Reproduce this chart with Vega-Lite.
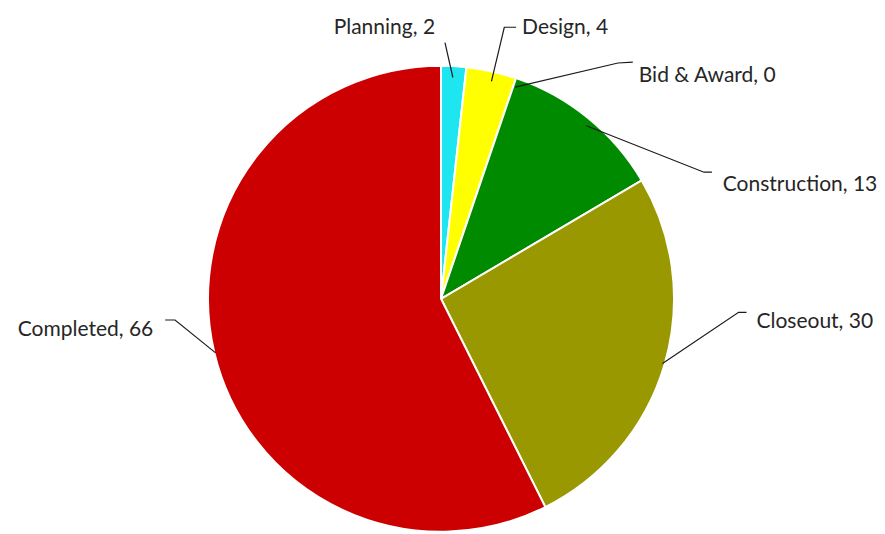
{
  "$schema": "https://vega.github.io/schema/vega-lite/v6.json",
  "width": 885,
  "height": 534,
  "autosize": {"type": "fit", "contains": "padding"},
  "background": "#ffffff",
  "config": {"view": {"stroke": null}},
  "datasets": {
    "phases": [
      {"idx": 1, "phase": "Planning", "count": 2},
      {"idx": 2, "phase": "Design", "count": 4},
      {"idx": 3, "phase": "Bid & Award", "count": 0},
      {"idx": 4, "phase": "Construction", "count": 13},
      {"idx": 5, "phase": "Closeout", "count": 30},
      {"idx": 6, "phase": "Completed", "count": 66}
    ],
    "leaders": [
      {"phase": "Planning", "step": 1, "lx": 0.0515, "ly": 0.9828},
      {"phase": "Planning", "step": 2, "lx": 0.0172, "ly": 1.1373},
      {"phase": "Design", "step": 1, "lx": 0.2189, "ly": 0.9657},
      {"phase": "Design", "step": 2, "lx": 0.2747, "ly": 1.206},
      {"phase": "Design", "step": 3, "lx": 0.3262, "ly": 1.206},
      {"phase": "Bid & Award", "step": 1, "lx": 0.3219, "ly": 0.9399},
      {"phase": "Bid & Award", "step": 2, "lx": 0.7682, "ly": 1.0472},
      {"phase": "Bid & Award", "step": 3, "lx": 0.8326, "ly": 1.0515},
      {"phase": "Construction", "step": 1, "lx": 0.6309, "ly": 0.7682},
      {"phase": "Construction", "step": 2, "lx": 1.1416, "ly": 0.5622},
      {"phase": "Construction", "step": 3, "lx": 1.176, "ly": 0.5622},
      {"phase": "Closeout", "step": 1, "lx": 0.9614, "ly": -0.2876},
      {"phase": "Closeout", "step": 2, "lx": 1.2918, "ly": -0.0601},
      {"phase": "Closeout", "step": 3, "lx": 1.3262, "ly": -0.0601},
      {"phase": "Completed", "step": 1, "lx": -0.9785, "ly": -0.2403},
      {"phase": "Completed", "step": 2, "lx": -1.1545, "ly": -0.0944},
      {"phase": "Completed", "step": 3, "lx": -1.1974, "ly": -0.0944}
    ],
    "labels": [
      {"phase": "Planning", "text": "Planning, 2", "tx": -0.0258, "ty": 1.2017},
      {"phase": "Design", "text": "Design, 4", "tx": 0.3519, "ty": 1.2017},
      {"phase": "Bid & Award", "text": "Bid & Award, 0", "tx": 0.8584, "ty": 0.9914},
      {"phase": "Construction", "text": "Construction, 13", "tx": 1.2232, "ty": 0.5064},
      {"phase": "Closeout", "text": "Closeout, 30", "tx": 1.3691, "ty": -0.103},
      {"phase": "Completed", "text": "Completed, 66", "tx": -1.2489, "ty": -0.1373}
    ]
  },
  "layer": [
    {
      "data": {"name": "phases"},
      "mark": {"type": "arc", "outerRadius": 233, "stroke": "#ffffff", "strokeWidth": 2},
      "encoding": {
        "x": {"datum": 0, "type": "quantitative", "scale": {"domain": [-1.8927, 1.9056], "nice": false, "zero": false}, "axis": null},
        "y": {"datum": 0, "type": "quantitative", "scale": {"domain": [-0.9871, 1.3048], "nice": false, "zero": false}, "axis": null},
        "theta": {"field": "count", "type": "quantitative", "stack": true},
        "order": {"field": "idx", "type": "quantitative"},
        "color": {
          "field": "phase",
          "type": "nominal",
          "legend": null,
          "scale": {
            "domain": ["Planning", "Design", "Bid & Award", "Construction", "Closeout", "Completed"],
            "range": ["#1ee6f0", "#ffff00", "#4472c4", "#008a00", "#9a9800", "#cc0000"]
          }
        }
      }
    },
    {
      "data": {"name": "leaders"},
      "mark": {"type": "line", "color": "#1a1a1a", "strokeWidth": 1.2},
      "encoding": {
        "x": {"field": "lx", "type": "quantitative"},
        "y": {"field": "ly", "type": "quantitative"},
        "detail": {"field": "phase"},
        "order": {"field": "step", "type": "quantitative"}
      }
    },
    {
      "data": {"name": "labels"},
      "transform": [{"filter": "datum.phase !== 'Planning' && datum.phase !== 'Completed'"}],
      "mark": {"type": "text", "align": "left", "baseline": "middle", "font": "Lato", "fontSize": 21, "color": "#262626"},
      "encoding": {
        "x": {"field": "tx", "type": "quantitative"},
        "y": {"field": "ty", "type": "quantitative"},
        "text": {"field": "text"}
      }
    },
    {
      "data": {"name": "labels"},
      "transform": [{"filter": "datum.phase === 'Planning' || datum.phase === 'Completed'"}],
      "mark": {"type": "text", "align": "right", "baseline": "middle", "font": "Lato", "fontSize": 21, "color": "#262626"},
      "encoding": {
        "x": {"field": "tx", "type": "quantitative"},
        "y": {"field": "ty", "type": "quantitative"},
        "text": {"field": "text"}
      }
    }
  ]
}
